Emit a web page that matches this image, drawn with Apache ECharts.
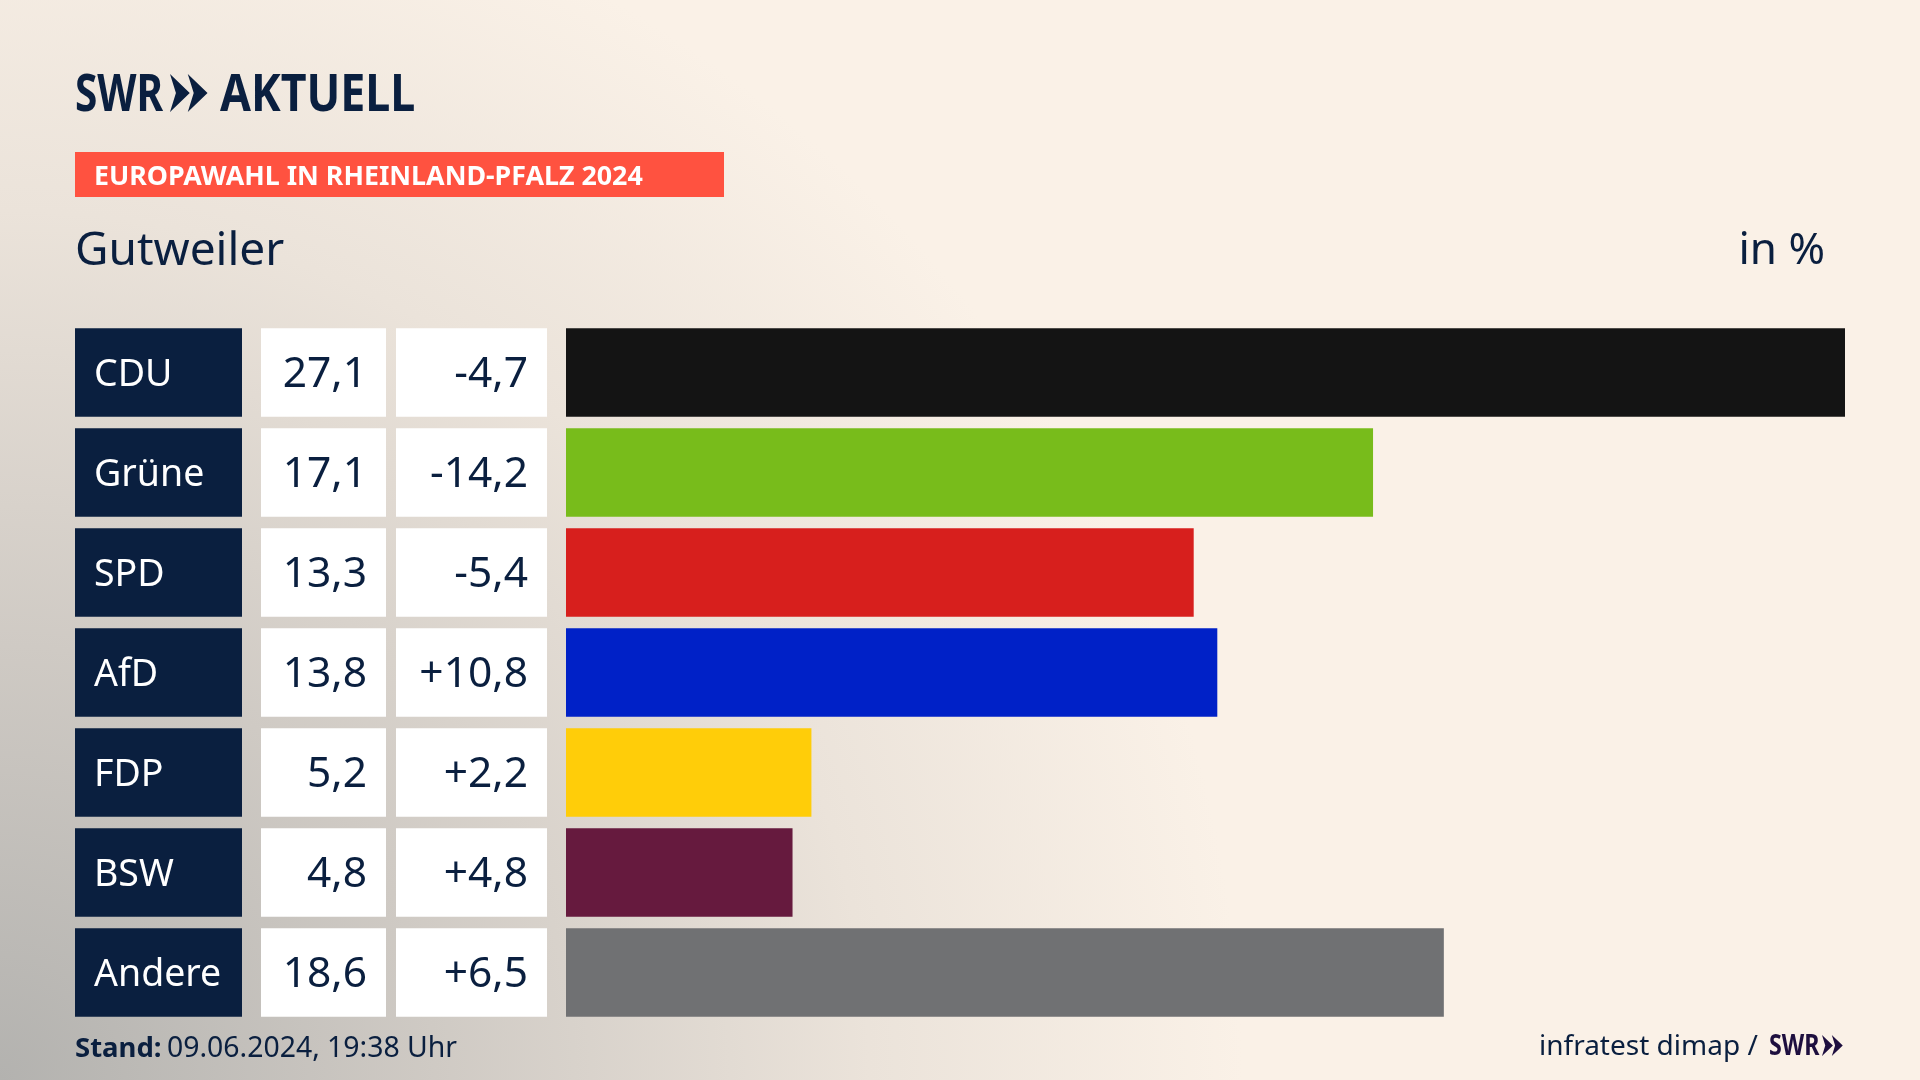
<!DOCTYPE html>
<html>
<head>
<meta charset="utf-8">
<title>Europawahl Gutweiler</title>
<style>
  html, body { margin: 0; padding: 0; background: #faf1e7; }
  #chart { width: 1920px; height: 1080px; }
</style>
<script src="https://cdn.jsdelivr.net/npm/echarts@6/dist/echarts.min.js"></script>
</head>
<body>
<div id="chart"></div>
<script>
const parties = ['CDU', 'Grüne', 'SPD', 'AfD', 'FDP', 'BSW', 'Andere'];
const shares = [27.1, 17.1, 13.3, 13.8, 5.2, 4.8, 18.6];
const changes = [-4.7, -14.2, -5.4, 10.8, 2.2, 4.8, 6.5];

const barColors = ['#141414', '#78bc1b', '#d71f1d', '#0021c7', '#ffcd09', '#661a3e', '#707173'];
const navy = '#0a1f3f';
const font = '"Noto Sans", sans-serif';

const fmtShare = v => v.toFixed(1).replace('.', ',');
const fmtChange = v => (v > 0 ? '+' : '') + fmtShare(v);

// table columns are y axes whose labels are the coloured boxes
function tableAxis(data, offset, width, color, bg, align, size) {
  return {
    type: 'category',
    inverse: true,
    position: 'left',
    offset: offset,
    data: data,
    axisLine: { show: false },
    axisTick: { show: false },
    axisLabel: {
      interval: 0,
      margin: 0,
      width: width,
      overflow: 'none',
      align: 'right',
      formatter: v => '{b|' + v + '}',
      rich: {
        b: {
          width: width,
          height: 83.5,
          lineHeight: 83.5,
          align: align,
          color: color,
          fontFamily: font,
          fontSize: size,
          backgroundColor: bg,
          padding: align === 'left' ? [5, 0, 0, 19] : [5, 19, 0, 0]
        }
      }
    }
  };
}

function text(x, y, str, size, weight, color, align, scaleX) {
  return {
    type: 'text',
    x: x,
    y: y,
    scaleX: scaleX || 1,
    style: {
      text: str,
      fontFamily: font,
      fontSize: size,
      fontWeight: weight,
      fill: color || navy,
      align: align || 'left',
      verticalAlign: 'middle'
    }
  };
}

function chevrons(x, y, h, color) {
  const w = h * 0.52;
  const one = dx => ({
    type: 'polygon',
    x: x + dx,
    y: y,
    shape: { points: [[0, 0], [w, h / 2], [0, h], [w * 0.3, h / 2]] },
    style: { fill: color }
  });
  return [one(0), one(w * 0.9)];
}

const chart = echarts.init(document.getElementById('chart'), null, { renderer: 'canvas' });

chart.setOption({
  animation: false,
  backgroundColor: {
    type: 'radial',
    x: 0,
    y: 1,
    r: 1.15,
    colorStops: [
      { offset: 0, color: '#b3b2af' },
      { offset: 0.35, color: '#cfcac4' },
      { offset: 0.7, color: '#ebe3da' },
      { offset: 1, color: '#faf1e7' }
    ]
  },
  grid: { left: 566, right: 75, top: 322.5, height: 700, containLabel: false },
  xAxis: { type: 'value', min: 0, max: 27.1, show: false },
  yAxis: [
    tableAxis(parties, 343, 148, '#ffffff', navy, 'left', 37.5),
    tableAxis(shares.map(fmtShare), 180, 106, navy, '#ffffff', 'right', 42.5),
    tableAxis(changes.map(fmtChange), 19, 132, navy, '#ffffff', 'right', 42.5)
  ],
  series: [{
    type: 'bar',
    yAxisIndex: 0,
    barWidth: 88.5,
    data: shares.map((v, i) => ({ value: v, itemStyle: { color: barColors[i] } }))
  }],
  graphic: [
    text(75, 96, 'SWR', 52, 'bold', navy, 'left', 0.78),
    ...chevrons(170, 74, 38, navy),
    text(220, 96, 'AKTUELL', 52, 'bold', navy, 'left', 0.86),
    { type: 'rect', shape: { x: 75, y: 152, width: 649, height: 45 }, style: { fill: '#ff5240' } },
    text(94, 177, 'EUROPAWAHL IN RHEINLAND-PFALZ 2024', 26.8, 'bold', '#ffffff'),
    text(75, 252, 'Gutweiler', 46, 'normal'),
    text(1825, 251, 'in %', 44, 'normal', navy, 'right'),
    text(75, 1049, 'Stand:', 27.5, 'bold'),
    text(167, 1049, '09.06.2024, 19:38 Uhr', 28.4, 'normal'),
    text(1539, 1047, 'infratest dimap /', 28, 'normal'),
    text(1769, 1047, 'SWR', 28, 'bold', '#1e0f3f', 'left', 0.83),
    ...chevrons(1822, 1035, 21, '#1e0f3f')
  ]
});
</script>
</body>
</html>
